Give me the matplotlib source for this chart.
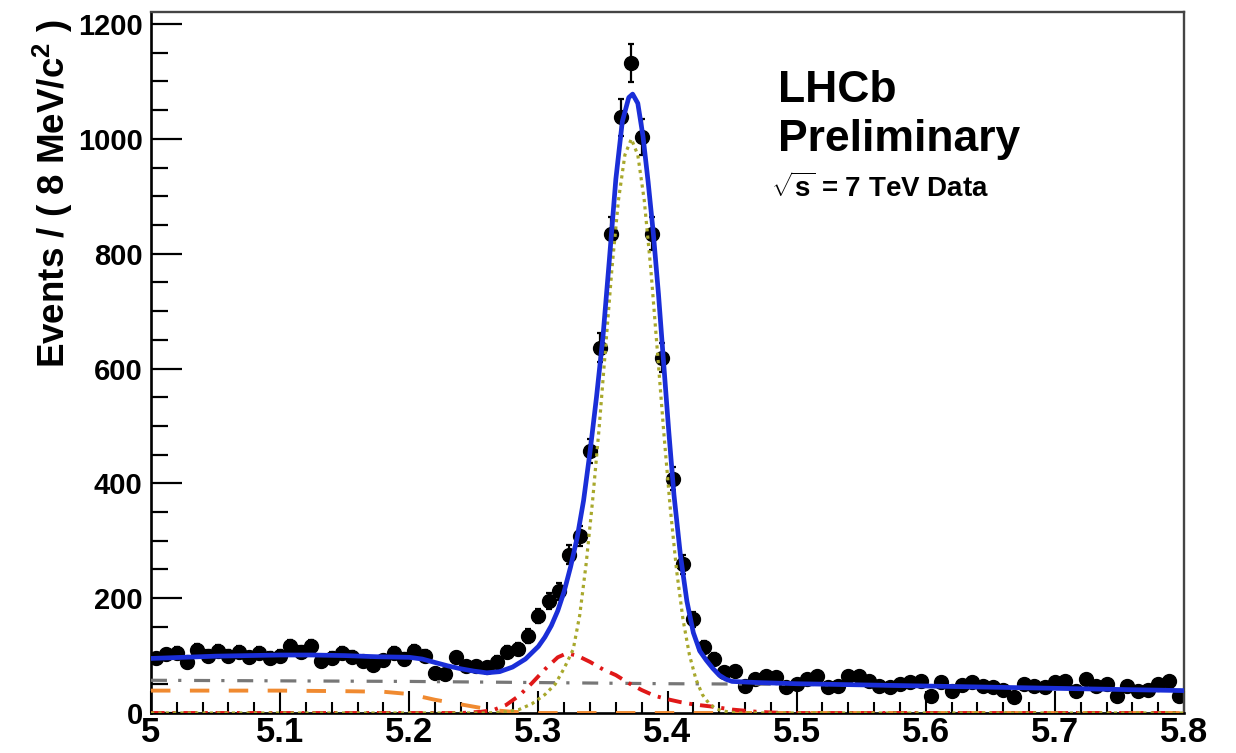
import numpy as np
import matplotlib
matplotlib.use("Agg")
import matplotlib.pyplot as plt
from matplotlib.ticker import MultipleLocator

plt.rcParams['font.family'] = ['Liberation Sans', 'DejaVu Sans']
plt.rcParams['font.weight'] = 'bold'
plt.rcParams['mathtext.fontset'] = 'custom'
plt.rcParams['mathtext.rm'] = 'Liberation Sans:bold'
plt.rcParams['mathtext.it'] = 'Liberation Sans:bold'
plt.rcParams['mathtext.bf'] = 'Liberation Sans:bold'

# mass histogram, 100 bins of 8 MeV between 5.0 and 5.8 GeV
m_lo, m_hi, nbins = 5.0, 5.8, 100
counts = [95, 102, 104, 88, 110, 100, 108, 100, 106, 97,
          104, 96, 100, 116, 106, 116, 90, 96, 104, 98,
          90, 84, 92, 104, 94, 108, 100, 70, 68, 97,
          82, 82, 80, 89, 106, 111, 134, 169, 195, 212,
          276, 308, 456, 636, 835, 1038, 1132, 1003, 835, 619,
          408, 259, 163, 115, 94, 71, 73, 47, 59, 64,
          62, 45, 50, 59, 64, 45, 47, 64, 64, 56,
          47, 45, 50, 54, 56, 30, 54, 38, 48, 54,
          47, 45, 40, 28, 50, 47, 45, 54, 56, 38,
          59, 47, 50, 30, 47, 38, 40, 50, 56, 30]

# total fit
total_m = [5.000, 5.025, 5.050, 5.075, 5.100, 5.125, 5.150, 5.175, 5.200, 5.210,
           5.220, 5.230, 5.240, 5.250, 5.260, 5.270, 5.280, 5.290, 5.300, 5.305,
           5.310, 5.315, 5.320, 5.325, 5.330, 5.335, 5.340, 5.345, 5.350, 5.355,
           5.360, 5.365, 5.370, 5.373, 5.377, 5.381, 5.385, 5.389, 5.393, 5.397,
           5.401, 5.405, 5.410, 5.415, 5.420, 5.425, 5.430, 5.435, 5.440, 5.445,
           5.450, 5.470, 5.500, 5.550, 5.600, 5.650, 5.700, 5.750, 5.800]
total_y = [95, 97, 99, 100, 101, 101, 100, 98, 97, 94,
           88, 82, 77, 73, 70, 72, 80, 94, 116, 132,
           152, 178, 212, 255, 305, 370, 455, 550, 655, 790,
           930, 1030, 1072, 1078, 1062, 1005, 925, 836, 730, 610,
           490, 380, 275, 195, 140, 108, 92, 78, 66, 59,
           55, 53, 51, 49, 47, 45, 43, 41, 39]

# signal peak
sig_m = [5.000, 5.260, 5.275, 5.285, 5.295, 5.305, 5.313, 5.320, 5.327, 5.332,
         5.337, 5.342, 5.347, 5.352, 5.357, 5.362, 5.367, 5.372, 5.377, 5.382,
         5.387, 5.392, 5.397, 5.402, 5.407, 5.412, 5.417, 5.422, 5.427, 5.432,
         5.437, 5.442, 5.447, 5.455, 5.800]
sig_y = [0, 0, 2, 6, 16, 32, 50, 78, 111, 170,
         260, 370, 495, 635, 775, 893, 972, 1000, 972, 893,
         775, 635, 492, 360, 249, 163, 101, 59, 32, 17,
         8, 4, 2, 0, 0]

# red component
red_m = [5.000, 5.240, 5.255, 5.265, 5.275, 5.285, 5.295, 5.305, 5.315, 5.322,
         5.330, 5.340, 5.350, 5.360, 5.370, 5.380, 5.390, 5.400, 5.410, 5.420,
         5.435, 5.450, 5.470, 5.490, 5.800]
red_y = [0, 0, 2, 5, 14, 30, 52, 76, 97, 104,
         100, 89, 76, 66, 52, 40, 30, 24, 19, 15,
         11, 6, 2, 0, 0]

# combinatorial background
comb_m = [5.0, 5.2, 5.4, 5.5, 5.6, 5.7, 5.8]
comb_y = [57, 55, 51, 50, 47, 43, 39]

# low-mass component
low_m = [5.000, 5.050, 5.100, 5.150, 5.180, 5.200, 5.210, 5.220, 5.230, 5.240,
         5.250, 5.260, 5.270, 5.280, 5.300, 5.800]
low_y = [39, 39, 39, 38, 37, 33, 28, 23, 19, 15,
         11, 7, 4, 2, 0, 0]

edges = np.linspace(m_lo, m_hi, nbins + 1)
centres = 0.5 * (edges[1:] + edges[:-1])
counts = np.array(counts, dtype=float)

fig = plt.figure(figsize=(12.36, 7.53), dpi=100)
ax = fig.add_axes([151 / 1236, 1 - 713 / 753, (1184 - 151) / 1236, (713 - 12) / 753])

ax.errorbar(centres, counts, yerr=np.sqrt(counts), fmt='o', color='black',
            markersize=10, elinewidth=1.6, capsize=2.5, capthick=1.6, zorder=2)

ax.plot(comb_m, comb_y, color='#777777', lw=2.3, ls=(0, (5, 3.5, 1, 4)), zorder=3)
ax.plot(low_m, low_y, color='#f08a30', lw=2.8, ls=(0, (5, 5)), zorder=3)
ax.plot(red_m, red_y, color='#e01818', lw=2.8, ls=(0, (3.5, 2, 0.8, 2)), zorder=3)
ax.plot(sig_m, sig_y, color='#a8a82c', lw=2.3, ls=(0, (1, 1.3)), zorder=3)
ax.plot(total_m, total_y, color='#1a2ed8', lw=3.4, zorder=4)

ax.set_xlim(m_lo, m_hi)
ax.set_ylim(0, 1221)

ax.xaxis.set_major_locator(MultipleLocator(0.1))
ax.xaxis.set_minor_locator(MultipleLocator(0.02))
ax.yaxis.set_major_locator(MultipleLocator(200))
ax.yaxis.set_minor_locator(MultipleLocator(50))
ax.xaxis.set_major_formatter(matplotlib.ticker.FuncFormatter(lambda v, p: '%g' % round(v, 2)))

ax.tick_params(axis='x', which='major', direction='in', length=16, width=1.5,
               labelsize=25, pad=2)
ax.tick_params(axis='x', which='minor', direction='in', length=8, width=1.5)
ax.tick_params(axis='y', which='major', direction='in', length=22, width=1.6,
               labelsize=21, pad=6)
ax.tick_params(axis='y', which='minor', direction='in', length=12, width=1.6)
for lab in ax.get_xticklabels() + ax.get_yticklabels():
    lab.set_fontweight('bold')

for side in ['left', 'bottom']:
    ax.spines[side].set_linewidth(1.9)
    ax.spines[side].set_color('black')
for side in ['top', 'right']:
    ax.spines[side].set_linewidth(1.7)
    ax.spines[side].set_color('#444444')

ax.set_ylabel('Events / ( 8 MeV/c$^{2}$ )', fontsize=26.5, fontweight='bold', loc='top')
ax.yaxis.set_label_coords(-0.074, 0.99)

fig.text(778 / 1236, 1 - 102 / 753, 'LHCb', fontsize=32, fontweight='bold', va='baseline')
fig.text(778 / 1236, 1 - 151 / 753, 'Preliminary', fontsize=32, fontweight='bold', va='baseline')
fig.text(771 / 1236, 1 - 197 / 753, r'$\sqrt{\mathbf{s}}$ = 7 TeV Data', fontsize=20,
         fontweight='bold', va='baseline')

fig.savefig('out.png', dpi=100)
